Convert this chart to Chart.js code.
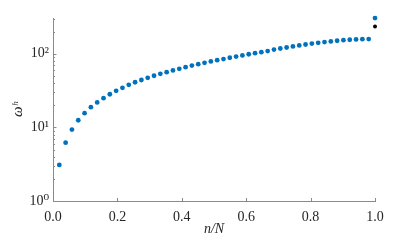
<!DOCTYPE html>
<html>
<head>
<meta charset="utf-8">
<script src="https://cdn.jsdelivr.net/npm/chart.js@4"></script>
<style>
  html, body { margin: 0; padding: 0; background: #fff; }
  #wrap { width: 415px; height: 243px; }
</style>
</head>
<body>
<div id="wrap"><canvas id="c" width="415" height="243"></canvas></div>
<script>
// ── data ──
var N = 51;
var omegaBlue = [
  3.09, 6.2, 9.33, 12.5, 15.6, 18.8, 21.8, 24.9, 28.2, 31.4,
  34.5, 37.8, 41.0, 44.0, 47.1, 50.3, 53.4, 56.3, 59.3, 62.5,
  65.8, 69.0, 72.2, 75.4, 78.6, 81.8, 84.8, 88.2, 91.6, 94.9,
  98.5, 101.9, 105.2, 108.8, 114.0, 117.8, 121.6, 125.6, 129.6, 133.6,
  137.6, 140.8, 144.0, 147.0, 150.2, 153.0, 155.0, 156.6, 157.8, 158.3,
  305
];
var blackN = [51];
var omegaBlack = [235];
var xTicks = [0, 0.2, 0.4, 0.6, 0.8, 1.0];
var yTicks = [1, 10, 100];
var yTickLabels = ['10\u2070', '10\u00b9', '10\u00b2'];

var axisColor = '#8a8a8a';
var textColor = '#262626';
var serif = '"Liberation Serif", "DejaVu Serif", serif';

var bluePts = omegaBlue.map(function (v, i) { return { x: (i + 1) / N, y: v }; });
var blackPts = omegaBlack.map(function (v, i) { return { x: blackN[i] / N, y: v }; });

// inward tick marks, MATLAB style
var innerTicks = {
  id: 'innerTicks',
  afterDraw: function (chart) {
    var ctx = chart.ctx, xs = chart.scales.x, ys = chart.scales.y;
    var bottom = ys.bottom, left = xs.left;
    ctx.save();
    ctx.strokeStyle = axisColor;
    ctx.lineWidth = 1;
    ctx.beginPath();
    xTicks.forEach(function (t) {
      var px = Math.round(xs.getPixelForValue(t)) + 0.5;
      ctx.moveTo(px, bottom); ctx.lineTo(px, bottom - 3);
    });
    yTicks.forEach(function (d) {
      for (var m = 1; m <= 9; m++) {
        var v = d * m;
        if (v > ys.max) break;
        var py = Math.round(ys.getPixelForValue(v)) + 0.5;
        ctx.moveTo(left, py); ctx.lineTo(left + (m === 1 ? 3.5 : 2), py);
      }
    });
    ctx.stroke();
    ctx.restore();
  }
};

new Chart(document.getElementById('c'), {
  type: 'scatter',
  data: {
    datasets: [
      { data: bluePts, backgroundColor: '#0072BD', borderWidth: 0, pointRadius: 2.4, clip: false },
      { data: blackPts, backgroundColor: '#000000', borderWidth: 0, pointRadius: 2, clip: false },
    ],
  },
  options: {
    responsive: false, animation: false,
    layout: { padding: { top: 18, right: 40, left: 0, bottom: 0 } },
    plugins: { legend: { display: false }, tooltip: { enabled: false } },
    scales: {
      x: {
        type: 'linear', min: 0, max: 1,
        afterBuildTicks: function (ax) { ax.ticks = xTicks.map(function (v) { return { value: v }; }); },
        afterFit: function (ax) { ax.height = 42; },
        grid: { drawOnChartArea: false, drawTicks: false },
        border: { display: true, color: axisColor, width: 1 },
        ticks: {
          color: textColor, padding: 8, maxRotation: 0,
          font: { family: serif, size: 14 },
          callback: function (v) { return v.toFixed(1); },
        },
        title: {
          display: true, text: 'n/N', color: textColor, padding: { top: 0, bottom: 5 },
          font: { family: serif, size: 14, style: 'italic' },
        },
      },
      y: {
        type: 'logarithmic', min: 1, max: 306,
        afterBuildTicks: function (ax) { ax.ticks = yTicks.map(function (v) { return { value: v }; }); },
        afterFit: function (ax) { ax.width = 53; },
        grid: { drawOnChartArea: false, drawTicks: false },
        border: { display: true, color: axisColor, width: 1 },
        ticks: {
          color: textColor, padding: 4,
          font: { family: serif, size: 14 },
          callback: function (v) { var i = yTicks.indexOf(v); return i >= 0 ? yTickLabels[i] : ''; },
        },
        title: {
          display: true, text: '\u03c9\u02b0', color: textColor, padding: { top: 9, bottom: 0 },
          font: { family: serif, size: 15, style: 'italic' },
        },
      },
    },
  },
  plugins: [innerTicks],
});
</script>
</body>
</html>
